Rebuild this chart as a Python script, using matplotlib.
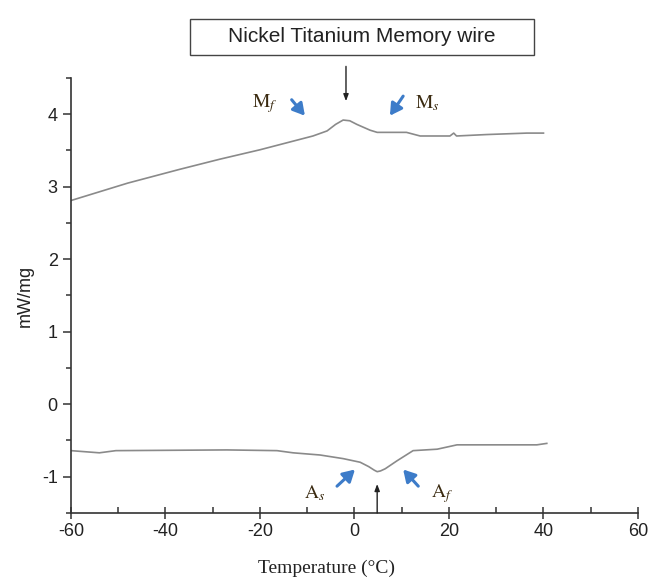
import matplotlib
matplotlib.use("Agg")
import matplotlib.pyplot as plt
from matplotlib.patches import Rectangle
import numpy as np

plt.rcParams['font.family'] = ['Liberation Sans', 'DejaVu Sans']
plt.rcParams['mathtext.fontset'] = 'stix'
plt.rcParams['axes.unicode_minus'] = False

# Upper (cooling) curve
upper_T = [-60, -48, -37, -28.5, -20, -8.8, -5.8, -4, -2.4, -1.0, 0.5, 3.3, 4.8, 11, 13.9, 20.2, 21, 21.6, 28, 36.5, 40]
upper_Q = [2.81, 3.05, 3.24, 3.38, 3.51, 3.70, 3.77, 3.86, 3.92, 3.91, 3.86, 3.78, 3.75, 3.75, 3.70, 3.70, 3.74, 3.70, 3.72, 3.74, 3.74]

# Lower (heating) curve
lower_T = [-60, -54, -50.5, -27, -16.4, -13, -7.3, -2.4, 1.2, 3.0, 4.2, 4.8, 5.5, 6.5, 9, 12.4, 17.5, 21.7, 30.8, 38.6, 40.7]
lower_Q = [-0.64, -0.67, -0.64, -0.63, -0.64, -0.67, -0.70, -0.75, -0.80, -0.86, -0.91, -0.93, -0.92, -0.89, -0.78, -0.64, -0.62, -0.56, -0.56, -0.56, -0.54]

x_ticks = [-60, -40, -20, 0, 20, 40, 60]
y_ticks = [-1, 0, 1, 2, 3, 4]

fig = plt.figure(figsize=(6.52, 5.79), dpi=100)
ax = fig.add_axes([0.1089, 0.114, 0.8696, 0.7513])

line_color = '#8a8a8a'
ax.plot(upper_T, upper_Q, color=line_color, lw=1.2)
ax.plot(lower_T, lower_Q, color=line_color, lw=1.2)

ax.set_xlim(-60, 60)
ax.set_ylim(-1.5, 4.5)
ax.set_xticks(x_ticks)
ax.set_yticks(y_ticks)
ax.set_xticks(np.arange(-50, 60, 20), minor=True)
ax.set_yticks(np.arange(-1.5, 4.6, 1.0), minor=True)

for s in ['top', 'right']:
    ax.spines[s].set_visible(False)
for s in ['left', 'bottom']:
    ax.spines[s].set_color('#333333')
    ax.spines[s].set_linewidth(1.2)

ax.tick_params(axis='y', which='major', direction='out', length=6, width=1.1, labelsize=13, color='#333333', labelcolor='#222222')
ax.tick_params(axis='y', which='minor', direction='out', length=3.5, width=1.1, color='#333333')
ax.tick_params(axis='x', which='major', direction='inout', length=8, width=1.1, labelsize=13, color='#333333', labelcolor='#222222')
ax.tick_params(axis='x', which='minor', direction='in', length=4, width=1.1, color='#333333')

ax.set_ylabel('mW/mg', fontsize=13, color='#222222', labelpad=6)
ax.set_xlabel('Temperature (°C)', fontsize=14, color='#222222', family=['Liberation Serif', 'DejaVu Serif'])
ax.xaxis.set_label_coords(0.45, -0.108)

# Title box
fig.patches.append(Rectangle((190 / 652, 1 - 55 / 579), 344 / 652, 36 / 579, transform=fig.transFigure,
                             fc='white', ec='#444444', lw=1.0))
fig.text(362 / 652, 1 - 37 / 579, 'Nickel Titanium Memory wire', ha='center', va='center', fontsize=15, color='#222222')

blue = '#3d7cc9'
label_color = '#3a2a10'
arrow_blue = dict(arrowstyle='-|>,head_length=0.7,head_width=0.4', color=blue, lw=2.2, shrinkA=0, shrinkB=0)

# Mf / Ms
ax.annotate('', xy=(-10.5, 3.98), xytext=(-13.3, 4.2), arrowprops=arrow_blue)
ax.text(-19, 4.15, r'M$_f$', fontsize=14, color=label_color, ha='center', va='center', family='STIXGeneral')
ax.annotate('', xy=(7.5, 3.98), xytext=(10.3, 4.25), arrowprops=arrow_blue)
ax.text(15.5, 4.15, r'M$_s$', fontsize=14, color=label_color, ha='center', va='center', family='STIXGeneral')
ax.annotate('', xy=(-1.8, 4.18), xytext=(-1.8, 4.66),
            arrowprops=dict(arrowstyle='-|>,head_length=0.4,head_width=0.15', color='#222222', lw=1.0, shrinkA=0, shrinkB=0),
            annotation_clip=False)

# As / Af
ax.annotate('', xy=(0.1, -0.9), xytext=(-3.7, -1.13), arrowprops=arrow_blue)
ax.text(-8.5, -1.23, r'A$_s$', fontsize=14, color=label_color, ha='center', va='center', family='STIXGeneral')
ax.annotate('', xy=(10.3, -0.9), xytext=(13.5, -1.13), arrowprops=arrow_blue)
ax.text(18.5, -1.23, r'A$_f$', fontsize=14, color=label_color, ha='center', va='center', family='STIXGeneral')
ax.annotate('', xy=(4.8, -1.1), xytext=(4.8, -1.5),
            arrowprops=dict(arrowstyle='-|>,head_length=0.4,head_width=0.15', color='#222222', lw=1.0, shrinkA=0, shrinkB=0))

fig.savefig('out.png', dpi=100)
